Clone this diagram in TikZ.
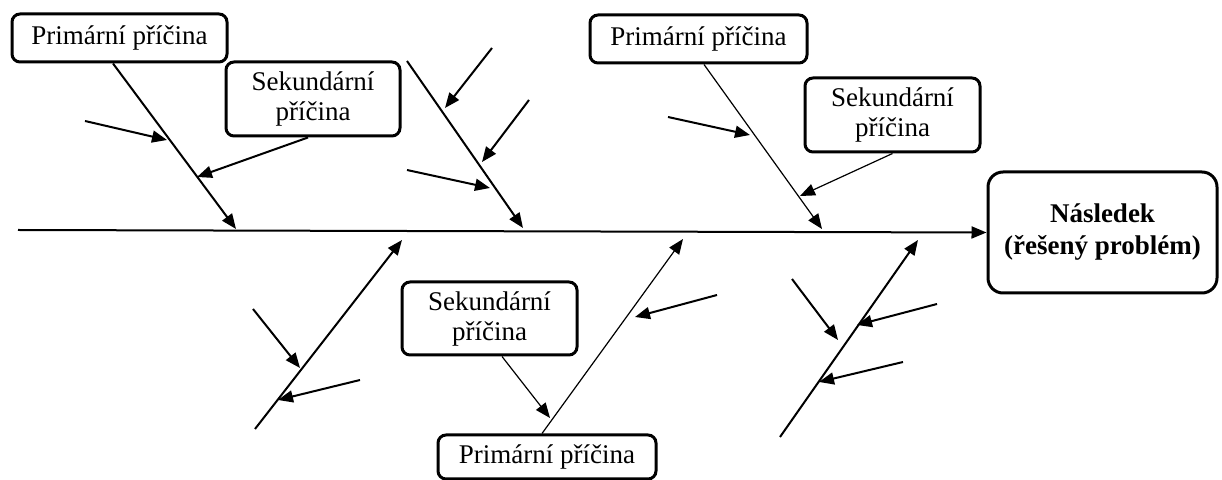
\documentclass[tikz,border=0pt]{standalone}
\usepackage{fontspec}
\setmainfont{Liberation Serif}
\usetikzlibrary{arrows.meta}
\tikzstyle{CauseBox}=[rectangle, draw, rounded corners=4pt, line width=1.5pt, inner sep=0pt, align=center, font=\fontsize{13.5}{15}\selectfont]
\tikzstyle{EffectBox}=[CauseBox, rounded corners=7.5pt, font=\fontsize{13.5}{16}\selectfont\bfseries]
\tikzstyle{Bone}=[line width=1pt, -{Triangle[length=7.5pt, width=6pt]}]
\tikzstyle{ThinBone}=[Bone, line width=0.6pt]
\begin{document}
\begin{tikzpicture}[x=0.5pt, y=-0.5pt]
			\useasboundingbox (0,0) rectangle (1222,480);

			%Nodos
			\node[CauseBox, minimum width=107.5pt, minimum height=24pt]	(primA)	at (119.5,38)		{Primární příčina};
			\node[CauseBox, minimum width=87pt, minimum height=37pt]		(sekA)	at (313,99)		{Sekundární\\příčina};
			\node[CauseBox, minimum width=108.5pt, minimum height=24pt]	(primB)	at (698.5,39)		{Primární příčina};
			\node[CauseBox, minimum width=87.5pt, minimum height=37pt]		(sekB)	at (892.5,115)	{Sekundární\\příčina};
			\node[CauseBox, minimum width=87.5pt, minimum height=36.5pt]	(sekC)	at (489.5,318.5)	{Sekundární\\příčina};
			\node[CauseBox, minimum width=109pt, minimum height=22pt]		(primC)	at (547,457)		{Primární příčina};
			\node[EffectBox, minimum width=114.5pt, minimum height=60.5pt]	(effect)	at (1102.5,232.5)	{Následek\\(řešený problém)};

			%Body
			\coordinate (tail)	at (18,230);
			\coordinate (hitA)	at (236,229);
			\coordinate (topB)	at (407,61);
			\coordinate (hitB)	at (523,228);
			\coordinate (hitP)	at (822,229);
			\coordinate (footD)	at (255,429);
			\coordinate (hitD)	at (402,240);
			\coordinate (hitC)	at (683,239);
			\coordinate (footE)	at (780,437);
			\coordinate (hitE)	at (918,240);

			\draw[Bone] (tail) -- (effect.west);
			\draw[Bone] ([xshift=-3.25pt]primA.south) -- (hitA);
			\draw[Bone] (topB) -- (hitB);
			\draw[ThinBone] ([xshift=2.75pt]primB.south) -- (hitP);
			\draw[Bone] (footD) -- (hitD);
			\draw[ThinBone] ([xshift=-2.5pt]primC.north) -- (hitC);
			\draw[Bone] (footE) -- (hitE);

			%Secondary
			\draw[Bone] ([xshift=-2.5pt]sekA.south) -- (197,177);
			\draw[ThinBone] (sekB.south) -- (800,196);
			\draw[ThinBone] ([xshift=6.25pt]sekC.south) -- (550,418);

			\coordinate (a1) at (85,121);		\draw[Bone] (a1) -- (167,140);
			\coordinate (b1) at (492,48);		\draw[Bone] (b1) -- (445,108);
			\coordinate (b2) at (529,100);	\draw[Bone] (b2) -- (482,162);
			\coordinate (b3) at (407,170);	\draw[Bone] (b3) -- (490,188);
			\coordinate (p1) at (668,117);	\draw[Bone] (p1) -- (750,135);
			\coordinate (d1) at (253,309);	\draw[Bone] (d1) -- (300,368);
			\coordinate (d2) at (360,380);	\draw[Bone] (d2) -- (278,400);
			\coordinate (c1) at (717,295);	\draw[Bone] (c1) -- (635,317);
			\coordinate (e1) at (792,279);	\draw[Bone] (e1) -- (838,340);
			\coordinate (e2) at (937,304);	\draw[Bone] (e2) -- (857,325);
			\coordinate (e3) at (903,362);	\draw[Bone] (e3) -- (819,382);

		\end{tikzpicture}
\end{document}
